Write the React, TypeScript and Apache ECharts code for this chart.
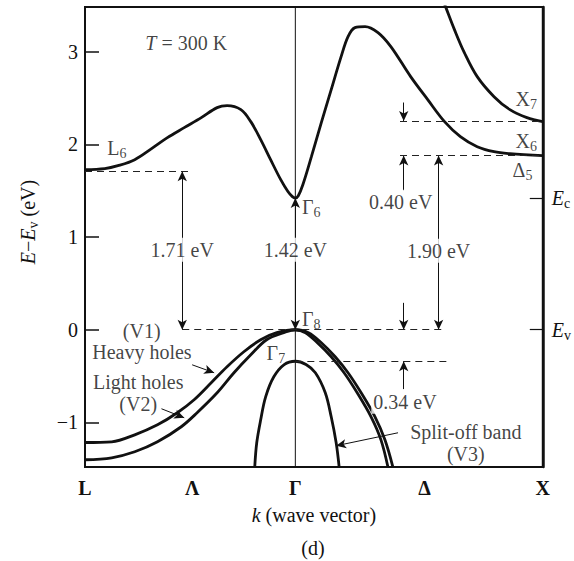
import React, { useEffect, useRef } from "react";
import * as echarts from "echarts";

// ---- band data: [k, E - Ev (eV)], k scaled so that L = -0.85, Γ = 0, X = 1 ----
const conductionBand: [number, number][] = [
  [-0.85, 1.726], [-0.77, 1.737], [-0.717, 1.769], [-0.649, 1.834], [-0.581, 1.953],
  [-0.517, 2.071], [-0.449, 2.179], [-0.38, 2.287], [-0.316, 2.395], [-0.276, 2.416],
  [-0.22, 2.373], [-0.18, 2.244], [-0.14, 2.05], [-0.1, 1.834], [-0.059, 1.618],
  [-0.03, 1.49], [-0.012, 1.435], [0, 1.42], [0.012, 1.445], [0.03, 1.56], [0.065, 1.866], [0.105, 2.233],
  [0.145, 2.589], [0.185, 2.945], [0.213, 3.161], [0.241, 3.258], [0.282, 3.269],
  [0.334, 3.204], [0.386, 3.053], [0.466, 2.729], [0.535, 2.481], [0.603, 2.244],
  [0.667, 2.082], [0.735, 1.974], [0.803, 1.92], [0.867, 1.899], [1.0, 1.877],
];
const x7Band: [number, number][] = [
  [0.58, 3.67], [0.607, 3.484], [0.643, 3.236], [0.683, 2.988], [0.735, 2.729],
  [0.803, 2.513], [0.867, 2.373], [0.936, 2.287], [1.0, 2.244],
];
const heavyHoles: [number, number][] = [
  [-0.85, -1.216], [-0.742, -1.208], [-0.649, -1.133], [-0.557, -1.025], [-0.477, -0.895],
  [-0.409, -0.755], [-0.34, -0.572], [-0.276, -0.399], [-0.208, -0.237], [-0.14, -0.108],
  [-0.075, -0.032], [0, 0], [0.053, -0.032], [0.105, -0.14], [0.161, -0.291],
  [0.213, -0.464], [0.266, -0.68], [0.322, -0.939], [0.362, -1.187], [0.394, -1.478],
];
const lightHoles: [number, number][] = [
  [-0.85, -1.402], [-0.742, -1.381], [-0.649, -1.316], [-0.557, -1.208], [-0.461, -1.046],
  [-0.397, -0.895], [-0.316, -0.68], [-0.248, -0.464], [-0.18, -0.27], [-0.116, -0.108],
  [-0.047, -0.032], [0, 0], [0.041, -0.032], [0.089, -0.14], [0.145, -0.291],
  [0.197, -0.464], [0.25, -0.68], [0.306, -0.939], [0.346, -1.187], [0.374, -1.478],
];
const splitOffBand: [number, number][] = [
  [-0.164, -1.478], [-0.156, -1.219], [-0.14, -0.971], [-0.12, -0.723], [-0.087, -0.507],
  [-0.045, -0.375], [0, -0.34], [0.043, -0.375], [0.081, -0.464], [0.121, -0.68],
  [0.145, -0.939], [0.165, -1.219], [0.177, -1.478],
];

// ---- axes ----
const kTicks = [-0.85, -0.417, 0, 0.522, 1];
const kTickNames = ["L", "Λ", "Γ", "Δ", "X"];
const energyTicks = [-1, 0, 1, 2, 3];
const edgeTicks = [0, 1.42];
const edgeNames = ["{i|E}{s|v}", "{i|E}{s|c}"];

// ---- energy levels (dashed): [kFrom, kTo, E] ----
const dashedLevels: [number, number, number][] = [
  [-0.85, -0.417, 1.71],
  [-0.457, 0.607, 0],
  [0, 0.615, -0.34],
  [0.423, 1, 2.25],
  [0.423, 1, 1.88],
];
// ---- gap arrows (two heads): [k, Efrom, Eto] ----
const gapArrows: [number, number, number][] = [
  [-0.457, 0, 1.71],
  [0, 0, 1.42],
  [0.579, 0, 1.88],
];
// ---- single-headed arrows: [k1, E1, k2, E2] ----
const pointerArrows: [number, number, number, number][] = [
  [0.438, 2.45, 0.438, 2.25],
  [0.438, 1.5, 0.438, 1.88],
  [0.438, 0.29, 0.438, 0],
  [0.438, -0.64, 0.438, -0.34],
  [-0.417, -0.378, -0.328, -0.464],
  [-0.541, -0.852, -0.449, -0.949],
  [0.415, -1.111, 0.165, -1.251],
];
// ---- annotation texts ----
const annotationTexts = [
  "{i|T} = 300 K", "L{s|6}", "Γ{s|6}", "Γ{s|8}", "Γ{s|7}", "X{s|7}", "X{s|6}", "Δ{s|5}",
  "(V1)", "Heavy holes", "Light holes", "(V2)", "Split-off band", "(V3)",
  "1.71 eV", "1.42 eV", "1.90 eV", "0.40 eV", "0.34 eV",
];
const annotationK = [
  -0.441, -0.762, 0.025, 0.025, -0.039, 0.888, 0.888, 0.876,
  -0.621, -0.62, -0.635, -0.635, 0.689, 0.689,
  -0.457, 0, 0.579, 0.426, 0.443,
];
const annotationE = [
  3.096, 1.963, 1.327, 0.119, -0.248, 2.49, 2.03, 1.726,
  -0.011, -0.237, -0.561, -0.8, -1.1, -1.338,
  0.863, 0.863, 0.852, 1.38, -0.777,
];
const annotationAnchor = [
  "c", "l", "l", "l", "r", "l", "l", "l",
  "c", "c", "c", "c", "c", "c",
  "c", "c", "c", "c", "c",
];

const FONT = '"Liberation Serif", "Times New Roman", serif';
const INK = "#111";
const FS = 20;
const rich: any = {
  i: { fontStyle: "italic", fontFamily: FONT, fontSize: FS, color: INK },
  s: { fontFamily: FONT, fontSize: 14, lineHeight: 14, padding: [11, 0, 0, 0], color: INK },
};

const bandSeries = (data: [number, number][]) => ({
  type: "line",
  data,
  smooth: 0.35,
  symbol: "none",
  silent: true,
  clip: true,
  lineStyle: { color: INK, width: 2.8 },
  z: 3,
});

export default function App() {
  const ref = useRef<HTMLDivElement>(null);
  useEffect(() => {
    const chart = echarts.init(ref.current!, null, { renderer: "svg" });
    const option: any = {
      animation: false,
      backgroundColor: "#fff",
      grid: {
        left: 85, top: 7, right: 28, bottom: 94,
        show: true, borderColor: INK, borderWidth: 2, backgroundColor: "transparent",
      },
      xAxis: {
        type: "value", min: -0.85, max: 1,
        axisLine: { show: true, onZero: false, lineStyle: { color: INK, width: 2 } },
        axisTick: { show: false },
        splitLine: { show: false },
        axisLabel: {
          customValues: kTicks,
          margin: 11,
          fontFamily: FONT, fontSize: FS, fontWeight: "bold", color: INK,
          formatter: (v: number) => {
            const i = kTicks.findIndex((t) => Math.abs(t - v) < 1e-6);
            return i >= 0 ? kTickNames[i] : "";
          },
        },
        name: "{i|k} (wave vector)",
        nameLocation: "middle",
        nameGap: 38,
        nameTextStyle: { fontFamily: FONT, fontSize: FS, color: INK, rich },
      },
      yAxis: [
        {
          type: "value", min: -1.48, max: 3.48, position: "left",
          axisLine: { show: true, onZero: false, lineStyle: { color: INK, width: 2 } },
          axisTick: { show: true, inside: true, length: 14, customValues: energyTicks, lineStyle: { color: INK, width: 1.5 } },
          splitLine: { show: false },
          axisLabel: {
            customValues: energyTicks, margin: 7,
            fontFamily: FONT, fontSize: FS, color: INK,
            formatter: (v: number) => (v < 0 ? "−" + Math.abs(v) : String(v)),
          },
        },
        {
          type: "value", min: -1.48, max: 3.48, position: "right",
          axisLine: { show: true, onZero: false, lineStyle: { color: INK, width: 2.5 } },
          axisTick: { show: true, inside: true, length: 13, customValues: edgeTicks, lineStyle: { color: INK, width: 1.2 } },
          splitLine: { show: false },
          axisLabel: {
            customValues: edgeTicks, margin: 9,
            fontFamily: FONT, fontSize: FS, color: INK, rich,
            formatter: (v: number) => {
              const i = edgeTicks.findIndex((t) => Math.abs(t - v) < 1e-6);
              return i >= 0 ? edgeNames[i] : "";
            },
          },
        },
      ],
      graphic: [
        {
          type: "text", x: 28, y: 222, rotation: Math.PI / 2,
          style: {
            text: "{i|E}−{i|E}{s|v} (eV)", rich,
            font: `${FS}px ${FONT}`, fill: INK, align: "center", verticalAlign: "middle",
          },
        },
        {
          type: "text", x: 313, y: 548,
          style: { text: "(d)", font: `${FS}px ${FONT}`, fill: INK, align: "center", verticalAlign: "middle" },
        },
      ],
      series: [
        {
          type: "line",
          data: [[0, -1.48], [0, 3.48]],
          symbol: "none", silent: true,
          lineStyle: { color: INK, width: 1 },
          z: 2,
          markLine: {
            silent: true, animation: false,
            symbol: ["arrow", "arrow"], symbolSize: [7, 10],
            label: { show: false },
            lineStyle: { color: INK, width: 1, type: "solid" },
            emphasis: { disabled: true },
            data: gapArrows.map((a) => [{ coord: [a[0], a[1]] }, { coord: [a[0], a[2]] }]),
          },
        },
        {
          type: "line",
          data: [],
          symbol: "none", silent: true,
          z: 2,
          markLine: {
            silent: true, animation: false,
            symbol: ["none", "arrow"], symbolSize: [7, 10],
            label: { show: false },
            lineStyle: { color: INK, width: 1, type: "solid" },
            emphasis: { disabled: true },
            data: pointerArrows.map((a) => [{ coord: [a[0], a[1]] }, { coord: [a[2], a[3]] }]),
          },
        },
        {
          type: "line",
          data: [],
          symbol: "none", silent: true,
          z: 2,
          markLine: {
            silent: true, animation: false,
            symbol: ["none", "none"],
            label: { show: false },
            lineStyle: { color: "#222", width: 1.2, type: [7, 5] },
            emphasis: { disabled: true },
            data: dashedLevels.map((d) => [{ coord: [d[0], d[2]] }, { coord: [d[1], d[2]] }]),
          },
        },
        bandSeries(conductionBand),
        bandSeries(x7Band),
        bandSeries(heavyHoles),
        bandSeries(lightHoles),
        bandSeries(splitOffBand),
        {
          type: "scatter",
          silent: true,
          symbolSize: 1,
          itemStyle: { color: "transparent" },
          z: 10,
          data: annotationTexts.map((t, i) => {
            const a = annotationAnchor[i];
            const isGap = t.endsWith("eV");
            return {
              value: [annotationK[i], annotationE[i]],
              label: {
                show: true,
                formatter: t,
                position: a === "l" ? "right" : a === "r" ? "left" : "inside",
                distance: 0,
                fontFamily: FONT, fontSize: FS, color: INK, lineHeight: 22,
                rich,
                backgroundColor: isGap ? "#fff" : "transparent",
                padding: isGap ? [1, 2] : 0,
              },
            };
          }),
        },
      ],
    };
    chart.setOption(option);
    return () => chart.dispose();
  }, []);
  return (
    <div
      ref={ref}
      style={{ position: "absolute", left: 0, top: 0, width: 574, height: 561, background: "#fff" }}
    />
  );
}
